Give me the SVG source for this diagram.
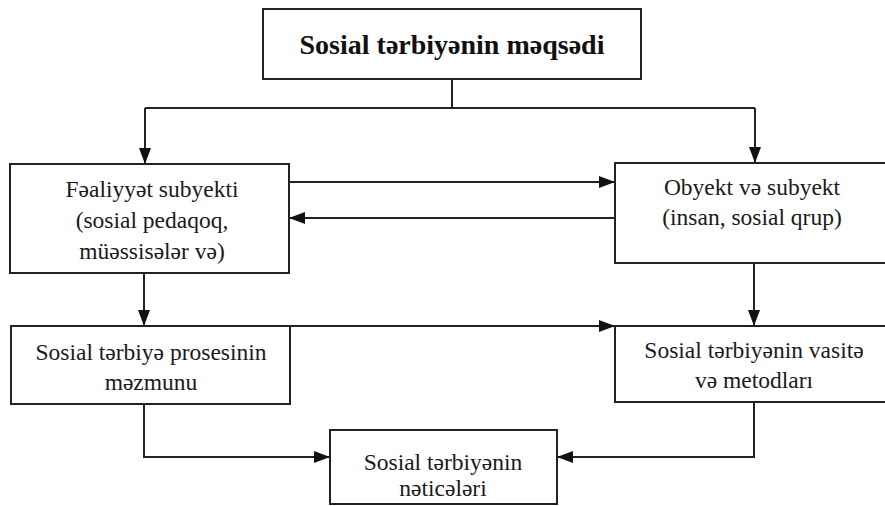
<svg xmlns="http://www.w3.org/2000/svg" width="885" height="506" viewBox="0 0 885 506">
  <style>
    .box { fill: #ffffff; stroke: #222222; stroke-width: 2; }
    .lbl { font-family: 'Liberation Serif', 'Times New Roman', serif; font-size: 23.5px; fill: #1a1a1a; text-anchor: middle; }
    .title { font-family: 'Liberation Serif', 'Times New Roman', serif; font-size: 28px; font-weight: bold; fill: #111111; text-anchor: middle; }
    .conn { fill: none; stroke: #222222; stroke-width: 2; }
  </style>
  <defs>
    <marker id="arrow" markerUnits="userSpaceOnUse" markerWidth="16" markerHeight="12" viewBox="0 0 16 12" refX="16" refY="6" orient="auto">
      <path d="M0,0 L16,6 L0,12 Z" fill="#111111"/>
    </marker>
  </defs>
  <rect x="0" y="0" width="885" height="506" fill="#ffffff"/>

  <g id="connectors">
    <path class="conn" d="M452,79 V108"/>
    <path class="conn" d="M145,108 H755"/>
    <path class="conn" d="M145,108 V164" marker-end="url(#arrow)"/>
    <path class="conn" d="M755,108 V163" marker-end="url(#arrow)"/>
    <path class="conn" d="M289,182 H615" marker-end="url(#arrow)"/>
    <path class="conn" d="M615,218 H289" marker-end="url(#arrow)"/>
    <path class="conn" d="M144,273 V326" marker-end="url(#arrow)"/>
    <path class="conn" d="M754,263 V326" marker-end="url(#arrow)"/>
    <path class="conn" d="M290,326 H615" marker-end="url(#arrow)"/>
    <path class="conn" d="M144,404 V457 H330" marker-end="url(#arrow)"/>
    <path class="conn" d="M754,402 V457 H557" marker-end="url(#arrow)"/>
  </g>

  <g id="node-goal">
    <rect class="box" x="263" y="9" width="378" height="70"/>
    <text class="title" x="452" y="54">Sosial tərbiyənin məqsədi</text>
  </g>

  <g id="node-subject">
    <rect class="box" x="10" y="164" width="279" height="109"/>
    <text class="lbl" x="152" y="197">Fəaliyyət subyekti</text>
    <text class="lbl" x="152" y="228">(sosial pedaqoq,</text>
    <text class="lbl" x="152" y="259">müəssisələr və)</text>
  </g>

  <g id="node-object">
    <rect class="box" x="615" y="163" width="280" height="100"/>
    <text class="lbl" x="752" y="195">Obyekt və subyekt</text>
    <text class="lbl" x="752" y="225">(insan, sosial qrup)</text>
  </g>

  <g id="node-content">
    <rect class="box" x="11" y="326" width="279" height="78"/>
    <text class="lbl" x="151" y="360">Sosial tərbiyə prosesinin</text>
    <text class="lbl" x="151" y="390">məzmunu</text>
  </g>

  <g id="node-methods">
    <rect class="box" x="615" y="326" width="280" height="76"/>
    <text class="lbl" x="754" y="358">Sosial tərbiyənin vasitə</text>
    <text class="lbl" x="754" y="388">və metodları</text>
  </g>

  <g id="node-results">
    <rect class="box" x="330" y="430" width="227" height="74"/>
    <text class="lbl" x="443" y="470">Sosial tərbiyənin</text>
    <text class="lbl" x="443" y="496">nəticələri</text>
  </g>
</svg>
